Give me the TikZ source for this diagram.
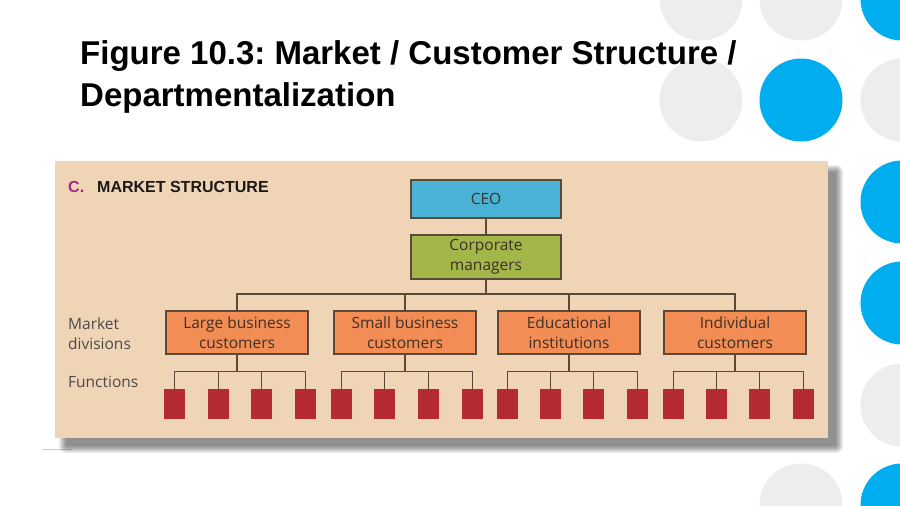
\documentclass[tikz,border=0pt]{standalone}
\usepackage{fontspec}
\setmainfont{Liberation Sans}
\newfontfamily\osans[Ligatures=NoCommon]{Open Sans}
\usetikzlibrary{calc}
\frenchspacing
\definecolor{panelbg}{HTML}{EFD4B6}
\definecolor{ceoblue}{HTML}{4AB3D5}
\definecolor{cmgreen}{HTML}{A2B64A}
\definecolor{divorange}{HTML}{F28D55}
\definecolor{funcred}{HTML}{B42A33}
\definecolor{linebrown}{HTML}{5B4A3A}
\definecolor{dotblue}{HTML}{00ADEF}
\definecolor{dotgray}{HTML}{EDEDED}
\definecolor{cmag}{HTML}{A3288A}
\definecolor{txtdark}{HTML}{3F3024}
\definecolor{lblgray}{HTML}{4A4A4A}
\tikzset{
  conn/.style={draw=linebrown, line width=1.1pt},
  topbox/.style={draw=linebrown, line width=1.1pt, minimum width=150pt, minimum height=38pt, inner sep=0pt, align=center, font=\osans\fontsize{15.5}{20}\selectfont, text=txtdark},
  divbox/.style={draw=linebrown, line width=1.1pt, fill=divorange, minimum width=142pt, minimum height=43pt, inner sep=0pt, align=center, font=\osans\fontsize{15.5}{20}\selectfont, text=txtdark},
  funcbox/.style={fill=funcred, minimum width=21pt, minimum height=30pt, inner sep=0pt},
  sidelbl/.style={anchor=west, align=left, inner sep=0pt, font=\osans\fontsize{15.5}{20}\selectfont, text=lblgray},
  dotb/.style={fill=dotblue},
  dotg/.style={fill=dotgray},
  shadowlayer/.style={fill=black, fill opacity=0.065}
}
\begin{document}
\begin{tikzpicture}[x=1pt,y=-1pt]
\useasboundingbox (0,0) rectangle (900,506);
\fill[white] (0,0) rectangle (900,506);
\begin{scope}
\clip (0,0) rectangle (900,506);
\fill[dotg] (701,-1) circle (41.5);
\fill[dotg] (801,-1) circle (41.5);
\fill[dotb] (902,-1) circle (41.5);
\fill[dotg] (701,100) circle (41.5);
\fill[dotb] (801,100) circle (41.5);
\fill[dotg] (902,100) circle (41.5);
\fill[dotb] (902,202) circle (41.5);
\fill[dotb] (902,303) circle (41.5);
\fill[dotg] (902,405) circle (41.5);
\fill[dotg] (801,505) circle (41.5);
\fill[dotb] (902,505) circle (41.5);
\end{scope}
% title
\node[anchor=base west, inner sep=0pt, font=\bfseries\fontsize{33}{38}\selectfont] (t1) at (80,64) {Figure 10.3: Market / Customer Structure /};
\node[anchor=base west, inner sep=0pt, font=\bfseries\fontsize{33}{38}\selectfont] (t2) at (80,106) {Departmentalization};
% panel with soft shadow
\draw[draw=black!20, line width=0.6pt] (42,449) -- (72,449);
\foreach \i in {0,...,7}{
  \fill[shadowlayer, rounded corners=\i pt] ({66-\i},{172-\i}) rectangle ({836+\i},{446+\i});
}
\fill[panelbg] (55,161) rectangle (828,438);
\node[anchor=base west, inner sep=0pt, text=cmag, font=\bfseries\fontsize{16}{18}\selectfont] (lc) at (68,192) {C.};
\node[anchor=base west, inner sep=0pt, text=black!90, font=\bfseries\fontsize{16}{18}\selectfont] (lms) at (97,192) {MARKET STRUCTURE};
% top boxes
\node[topbox, fill=ceoblue] (ceo) at (486,199) {CEO};
\node[topbox, fill=cmgreen, minimum height=44pt] (cm) at (486,257) {Corporate\\managers};
\draw[conn] (ceo.south) -- (cm.north);
% divisions
\node[divbox] (d1) at (237,332.5) {Large business\\customers};
\node[divbox] (d2) at (405,332.5) {Small business\\customers};
\node[divbox] (d3) at (569,332.5) {Educational\\institutions};
\node[divbox] (d4) at (735,332.5) {Individual\\customers};
\coordinate (bus) at (486,294);
\draw[conn] (cm.south) -- (bus);
\draw[conn] (d1.north) |- (d4.north |- bus) -- (d4.north);
\draw[conn] (d2.north) -- (d2.north |- bus);
\draw[conn] (d3.north) -- (d3.north |- bus);
% side labels
\node[sidelbl] (lmd) at (68,334) {Market\\divisions};
\node[sidelbl] (lfn) at (68,382) {Functions};
% functions
\foreach \g/\xa/\xb/\xc/\xd in {1/174.5/218.5/261.5/305.5, 2/341.5/384.5/428.5/472.5, 3/507.5/550.5/593.5/637.5, 4/673.5/716.5/759.5/803.5}{
  \node[funcbox] (f\g1) at (\xa,404) {};
  \node[funcbox] (f\g2) at (\xb,404) {};
  \node[funcbox] (f\g3) at (\xc,404) {};
  \node[funcbox] (f\g4) at (\xd,404) {};
  \coordinate (b\g) at ($(d\g.south)+(0,17)$);
  \draw[conn] (d\g.south) -- (b\g);
  \draw[conn] (f\g1.north) |- (b\g -| f\g4.north) -- (f\g4.north);
  \draw[conn] (f\g2.north) -- (f\g2.north |- b\g);
  \draw[conn] (f\g3.north) -- (f\g3.north |- b\g);
}
\end{tikzpicture}
\end{document}
